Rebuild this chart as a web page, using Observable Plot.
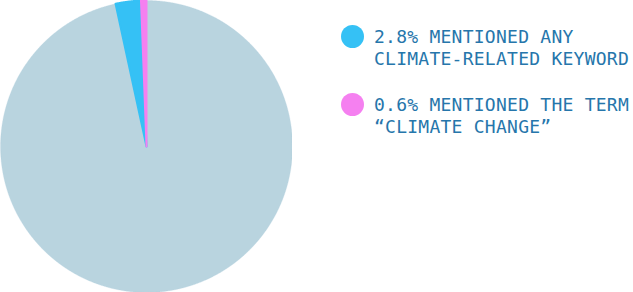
<!DOCTYPE html>
<html>
<head>
<meta charset="utf-8">
<script src="https://cdn.jsdelivr.net/npm/d3@7"></script>
<script src="https://cdn.jsdelivr.net/npm/@observablehq/plot@0.6"></script>
<style>
  html, body { margin: 0; padding: 0; background: #fff; }
  #wrap { position: relative; width: 633px; height: 292px; overflow: hidden; }
  #pie { position: absolute; left: 0; top: 0; }
  .item { position: absolute; left: 341px; font-family: "DejaVu Sans Mono", monospace; font-size: 18px; line-height: 22px; letter-spacing: 0.25px; color: #2676ab; white-space: nowrap; }
  .sw { position: absolute; left: 0; width: 23px; height: 23px; border-radius: 50%; }
  .txt { position: absolute; left: 33px; top: 0; }
</style>
</head>
<body>
<div id="wrap"><div id="pie"></div><div id="legend"></div></div>
<script>
const keys = ["other", "keyword", "term"];
const shares = [96.6, 2.8, 0.6];
const colors = ["#b9d4df", "#35c1f5", "#f580f0"];
const legendKeys = ["keyword", "term"];
const legendLines = [
  ["2.8% MENTIONED ANY", "CLIMATE-RELATED KEYWORD"],
  ["0.6% MENTIONED THE TERM", "\u201CCLIMATE CHANGE\u201D"]
];

const slices = keys.map((k, i) => ({key: k, value: shares[i]}));
const arcs = d3.pie().sort(null).value(d => d.value)(slices);

// polygon outline of each slice in unit-circle data space
const pts = [];
for (const a of arcs) {
  const k = a.data.key;
  pts.push({key: k, x: 0, y: 0});
  const n = Math.max(2, Math.ceil((a.endAngle - a.startAngle) / 0.004));
  for (let j = 0; j <= n; j++) {
    const t = a.startAngle + (a.endAngle - a.startAngle) * j / n;
    pts.push({key: k, x: Math.sin(t), y: Math.cos(t)});
  }
  pts.push({key: k, x: 0, y: 0});
}

const chart = Plot.plot({
  width: 292, height: 292,
  margin: 0,
  x: {domain: [-1, 1], axis: null},
  y: {domain: [-1, 1], axis: null},
  color: {domain: keys, range: colors},
  marks: [
    Plot.line(pts.filter(d => d.key === "other"), {x: "x", y: "y", z: "key", fill: "key", stroke: "key", strokeWidth: 0.3}),
    Plot.line(pts.filter(d => d.key !== "other"), {x: "x", y: "y", z: "key", fill: "key", stroke: "key", strokeWidth: 2, strokeLinejoin: "round"})
  ]
});
document.getElementById("pie").appendChild(chart);

const legendTops = [25, 93];
const leg = document.getElementById("legend");
legendKeys.forEach((k, i) => {
  const item = document.createElement("div");
  item.className = "item";
  item.style.top = legendTops[i] + "px";
  const sw = document.createElement("div");
  sw.className = "sw";
  sw.style.background = colors[keys.indexOf(k)];
  sw.style.top = "0px";
  const tx = document.createElement("div");
  tx.className = "txt";
  tx.style.top = "1px";
  tx.innerHTML = legendLines[i].join("<br>");
  item.appendChild(sw);
  item.appendChild(tx);
  leg.appendChild(item);
});
</script>
</body>
</html>
